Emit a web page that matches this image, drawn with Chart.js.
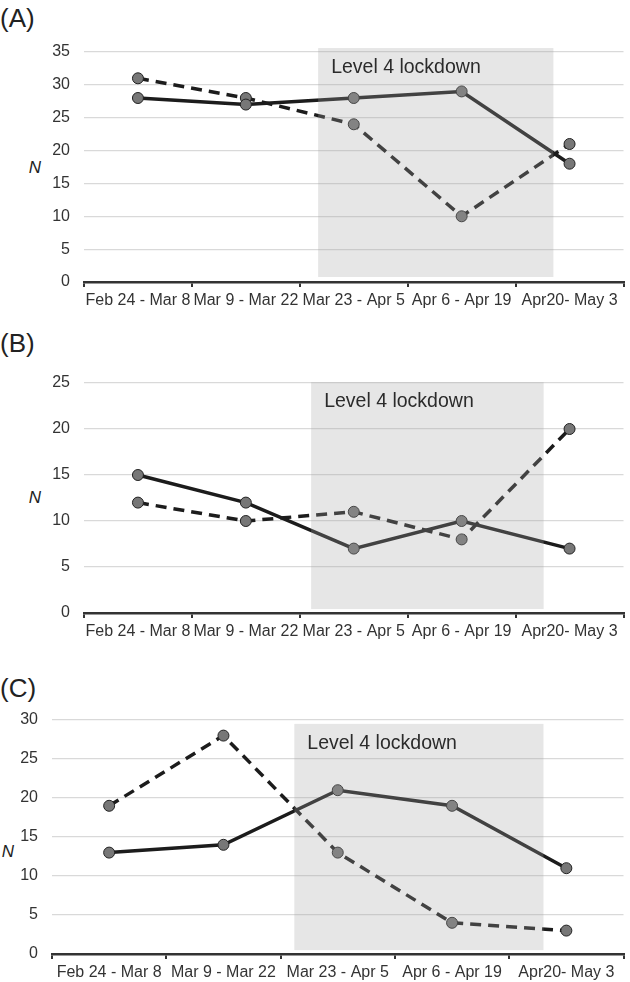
<!DOCTYPE html>
<html>
<head>
<meta charset="utf-8">
<script src="https://cdn.jsdelivr.net/npm/chart.js@4"></script>
<style>
body{margin:0;background:#fff;width:630px;height:982px;position:relative;overflow:hidden;font-family:"Liberation Sans",Arial,sans-serif;}
canvas{position:absolute;left:0;}
.tag{position:absolute;left:0;font-size:26px;color:#222;line-height:30px;}
.nlab{position:absolute;font-size:17px;font-style:italic;color:#222;line-height:18px;width:20px;text-align:center;}
</style>
</head>
<body>
<div class="tag" style="top:3px">(A)</div>
<div class="tag" style="top:328px">(B)</div>
<div class="tag" style="top:673px">(C)</div>
<div class="nlab" style="left:25px;top:159px">N</div>
<div class="nlab" style="left:25px;top:489px">N</div>
<div class="nlab" style="left:-2px;top:843px">N</div>
<canvas id="chartA" width="630" height="310" style="top:0"></canvas>
<canvas id="chartB" width="630" height="330" style="top:320px"></canvas>
<canvas id="chartC" width="630" height="332" style="top:650px"></canvas>
<script>
// two-week periods
var categories = ["Feb 24 - Mar 8", "Mar 9 - Mar 22", "Mar 23 - Apr 5", "Apr 6 - Apr 19", "Apr20- May 3"];

// (A)
var aSolid  = [28, 27, 28, 29, 18];
var aDashed = [31, 28, 24, 10, 21];
// (B)
var bSolid  = [15, 12, 7, 10, 7];
var bDashed = [12, 10, 11, 8, 20];
// (C)
var cSolid  = [13, 14, 21, 19, 11];
var cDashed = [19, 28, 13, 4, 3];

var FONT = '"Liberation Sans", Arial, sans-serif';

// grey box for lockdown period, drawn over the lines
var lockdownPlugin = {
  id: 'lockdown',
  afterDatasetsDraw: function(chart, args, opts) {
    var ctx = chart.ctx, xs = chart.scales.x, ys = chart.scales.y;
    var l = xs.getPixelForValue(opts.x0), r = xs.getPixelForValue(opts.x1);
    var t = ys.getPixelForValue(opts.y1), b = ys.getPixelForValue(opts.y0);
    ctx.save();
    ctx.fillStyle = 'rgba(166,166,166,0.28)';
    ctx.fillRect(l, t, r - l, b - t);
    ctx.fillStyle = '#2b2b2b';
    ctx.font = '19.5px ' + FONT;
    ctx.textBaseline = 'middle';
    ctx.fillText('Level 4 lockdown', l + 13, t + 20);
    ctx.restore();
  }
};

function makePanel(id, solid, dashed, yMax, pad, yWidth, xHeight, shade) {
  var ds = function(data, dash) {
    return {
      data: data,
      borderColor: '#1c1c1c',
      borderWidth: 3.5,
      borderDash: dash,
      pointRadius: 5.5,
      pointHoverRadius: 5.5,
      pointBackgroundColor: '#777',
      pointBorderColor: '#222',
      pointBorderWidth: 1,
      tension: 0
    };
  };
  return new Chart(document.getElementById(id), {
    type: 'line',
    data: { labels: categories, datasets: [ds(solid, []), ds(dashed, [11, 7])] },
    options: {
      responsive: false,
      animation: false,
      layout: { padding: pad },
      plugins: { legend: { display: false }, tooltip: { enabled: false }, lockdown: shade },
      scales: {
        x: {
          offset: true,
          grid: { offset: true, drawOnChartArea: false, drawTicks: true, tickLength: 5, color: '#333', lineWidth: 2 },
          border: { display: true, color: '#333', width: 2.5 },
          ticks: { color: '#333', font: { size: 16, family: FONT }, padding: 4, autoSkip: false, maxRotation: 0, minRotation: 0 },
          afterFit: function(s) { s.height = xHeight; }
        },
        y: {
          min: 0, max: yMax,
          grid: { color: '#d9d9d9', lineWidth: 1.2, drawTicks: false },
          border: { display: false },
          ticks: { stepSize: 5, color: '#333', font: { size: 16, family: FONT }, padding: 14 },
          afterFit: function(s) { s.width = yWidth; }
        }
      }
    },
    plugins: [lockdownPlugin]
  });
}

makePanel('chartA', aSolid, aDashed, 35, { top: 52, right: 4, bottom: 0, left: 0 }, 84, 28,
  { x0: 1.67, x1: 3.85, y0: 0.76, y1: 35.6 });
makePanel('chartB', bSolid, bDashed, 25, { top: 63, right: 4, bottom: 0, left: 0 }, 84, 37,
  { x0: 1.605, x1: 3.76, y0: 0.43, y1: 25.1 });
makePanel('chartC', cSolid, cDashed, 30, { top: 70, right: 4, bottom: 0, left: 0 }, 52, 28,
  { x0: 1.62, x1: 3.8, y0: 0.5, y1: 29.5 });
</script>
</body>
</html>
